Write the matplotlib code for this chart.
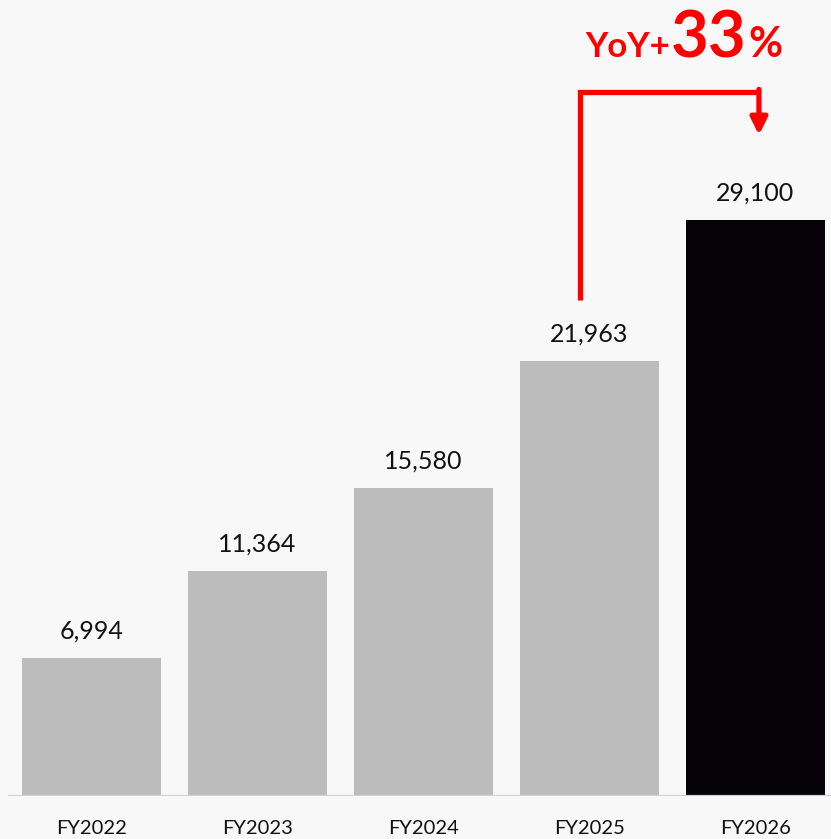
import matplotlib
matplotlib.use("Agg")
import matplotlib.pyplot as plt

years = ["FY2022", "FY2023", "FY2024", "FY2025", "FY2026"]
sales = [6994, 11364, 15580, 21963, 29100]
bar_colors = ["#bcbcbc", "#bcbcbc", "#bcbcbc", "#bcbcbc", "#050308"]
growth_pct = 33

plt.rcParams["font.family"] = ["Lato", "DejaVu Sans"]
bg = "#f8f8f8"

fig = plt.figure(figsize=(8.31, 8.39), dpi=100, facecolor=bg)
ax = fig.add_axes([8 / 831, 43 / 839, 823 / 831, 796 / 839])
ax.set_facecolor(bg)

x = range(len(years))
ax.bar(x, sales, width=0.84, color=bar_colors, zorder=2)
ax.set_xlim(-0.503, 4.455)
ax.set_ylim(0, 40220)

for xi, v in zip(x, sales):
    ax.annotate(f"{v:,}", (xi, v), xytext=(0, 11), textcoords="offset points",
                ha="center", va="bottom", fontsize=18, color="#111111")

for s in ax.spines.values():
    s.set_visible(False)
ax.axhline(0, color="#d0d0d8", lw=1.6, zorder=3)
ax.set_yticks([])
ax.set_xticks(list(x))
ax.set_xticklabels(years, fontsize=14.5, color="#111111")
ax.tick_params(axis="x", length=0, pad=17)

# red bracket arrow from FY2025 to FY2026
red = "#ff0000"
x0, x1 = 2.943, 4.021
y_low, y_top, y_tip = 25063, 35573, 33400
ax.plot([x0, x0, x1], [y_low, y_top, y_top], color=red, lw=3.8,
        solid_joinstyle="miter", solid_capstyle="butt", clip_on=False)
ax.annotate("", xy=(x1, y_tip), xytext=(x1, y_top + 130),
            arrowprops=dict(arrowstyle="-|>,head_length=1.0,head_width=0.5",
                            color=red, lw=3.8, shrinkA=0, shrinkB=0))

# growth label, built from pieces of different sizes
fig.canvas.draw()
r = fig.canvas.get_renderer()
base_y = 1 - 57 / 839
t1 = fig.text(585 / 831, base_y, "YoY+", color=red, fontsize=25,
              fontweight="bold", va="baseline", ha="left")
e1 = t1.get_window_extent(r)
t2 = fig.text(e1.x1 / 831 + 0.001, base_y, f"{growth_pct}", color=red, fontsize=47,
              fontweight="bold", va="baseline", ha="left")
e2 = t2.get_window_extent(r)
fig.text(e2.x1 / 831 + 0.002, base_y, "%", color=red, fontsize=30,
         fontweight="bold", va="baseline", ha="left")

fig.savefig("out.png", dpi=100, facecolor=bg)
